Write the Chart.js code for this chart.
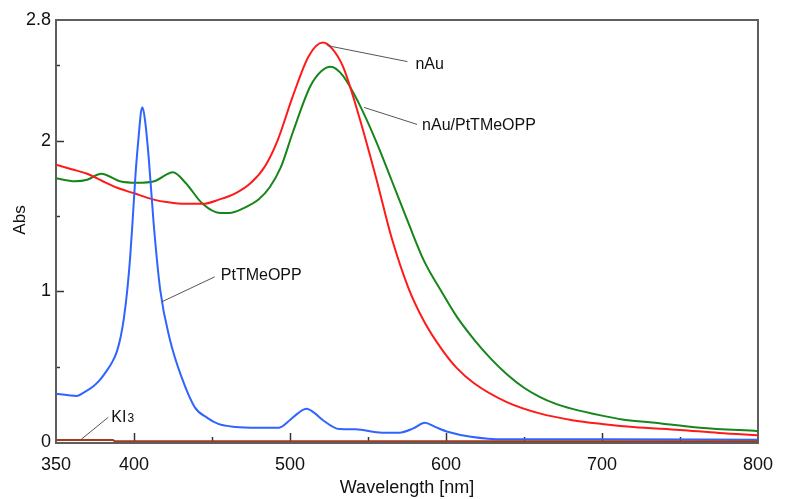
<!DOCTYPE html>
<html>
<head>
<meta charset="utf-8">
<title>Absorption spectra</title>
<script src="https://cdn.jsdelivr.net/npm/chart.js@4.4.1/dist/chart.umd.min.js"></script>
<style>
  html, body { margin: 0; padding: 0; background: #fff; }
  #wrap { width: 785px; height: 499px; }
</style>
</head>
<body>
<div id="wrap"><canvas id="chartSpectra"></canvas></div>
<script>
// ============ DATA ============
const nAuNm  = [350, 360, 370, 380, 391, 400, 412, 422, 433, 444, 455, 465, 475, 484, 492, 502, 512, 521, 527, 534, 544, 555, 565, 576, 586, 597, 607, 618, 639, 660, 681, 700, 720, 750, 775, 800];
const nAuAbs = [1.84, 1.81, 1.78, 1.73, 1.68, 1.65, 1.61, 1.59, 1.58, 1.58, 1.61, 1.65, 1.72, 1.83, 2.00, 2.30, 2.56, 2.65, 2.61, 2.49, 2.17, 1.76, 1.36, 1.02, 0.80, 0.62, 0.49, 0.39, 0.265, 0.19, 0.145, 0.12, 0.10, 0.08, 0.06, 0.045];

const mixNm  = [350, 362, 370, 379, 391, 402, 413, 425, 433, 444, 455, 461, 470, 480, 487, 494, 502, 513, 520, 526, 534, 544, 555, 565, 576, 586, 597, 607, 618, 629, 639, 650, 660, 670, 681, 700, 713, 732, 763, 800];
const mixAbs = [1.75, 1.73, 1.74, 1.78, 1.73, 1.72, 1.73, 1.79, 1.72, 1.58, 1.52, 1.52, 1.55, 1.61, 1.69, 1.82, 2.06, 2.36, 2.46, 2.49, 2.43, 2.25, 2.00, 1.74, 1.45, 1.20, 1.00, 0.83, 0.68, 0.55, 0.45, 0.36, 0.30, 0.255, 0.22, 0.175, 0.15, 0.13, 0.095, 0.072];

const ptNm  = [350, 358, 363, 368, 374, 378, 383, 386, 389, 391.5, 393.5, 395.7, 397.5, 399, 401, 403, 404.5, 405.5, 407, 409.4, 412.6, 416.8, 423, 430.5, 439, 447, 454, 465, 479, 493, 500, 505, 510.6, 516, 521, 531.6, 542, 559, 570, 579, 586.5, 593, 601, 616, 637, 700, 800];
const ptAbs = [0.32, 0.31, 0.305, 0.33, 0.37, 0.41, 0.48, 0.53, 0.60, 0.70, 0.82, 1.01, 1.22, 1.45, 1.78, 2.03, 2.19, 2.22, 2.14, 1.89, 1.45, 1.01, 0.68, 0.43, 0.23, 0.16, 0.12, 0.10, 0.095, 0.095, 0.146, 0.19, 0.22, 0.19, 0.146, 0.086, 0.084, 0.062, 0.062, 0.09, 0.128, 0.10, 0.068, 0.035, 0.018, 0.018, 0.015];

const ki3Nm  = [350, 386.5, 387.5, 800];
const ki3Abs = [0.013, 0.013, 0.006, 0.005];

const xTickValues = [350, 400, 450, 500, 550, 600, 650, 700, 750, 800];
const xTickLabels = [350, 400, 500, 600, 700, 800];
const yTickValues = [0, 0.5, 1, 1.5, 2, 2.5, 2.8];
const yTickLabels = [0, 1, 2, 2.8];

// ============ STYLE ============
const RED = '#ff1a1a';
const GREEN = '#16861a';
const BLUE = '#2f64ff';
const BROWN = '#a33a1f';
const FRAME = '#5e5e5e';
const INK = '#111';
const FONT = "'Liberation Sans', Arial, sans-serif";

function points(xs, ys) {
  return xs.map(function (x, i) { return { x: x, y: ys[i] }; });
}

function series(label, xs, ys, color, smooth) {
  return {
    label: label,
    data: points(xs, ys),
    borderColor: color,
    borderWidth: 2,
    pointRadius: 0,
    fill: false,
    tension: smooth ? 0.4 : 0,
    cubicInterpolationMode: smooth ? 'monotone' : 'default'
  };
}

// callouts: anchor in data units, text / leader end as px offsets from it
const callouts = [
  { text: 'nAu',          nm: 524,   abs: 2.63,  dx: 88, dy: 23,  lx: 80, ly: 16 },
  { text: 'nAu/PtTMeOPP', nm: 547.5, abs: 2.22,  dx: 58, dy: 23,  lx: 53, ly: 17 },
  { text: 'PtTMeOPP',     nm: 417.8, abs: 0.93,  dx: 59, dy: -22, lx: 53, ly: -25 },
  { text: 'KI', sub: '3', nm: 366.2, abs: 0.018, dx: 30, dy: -17, lx: 27, ly: -22 }
];

// ============ PLUGIN: frame + inward ticks under the curves, labels on top ============
const decor = {
  id: 'decor',
  beforeDatasetsDraw: function (chart) {
    const ctx = chart.ctx;
    const a = chart.chartArea;
    const xs = chart.scales.x;
    const ys = chart.scales.y;
    ctx.save();

    ctx.strokeStyle = '#333';
    ctx.lineWidth = 1.5;
    xTickValues.forEach(function (v) {
      if (v === 350 || v === 800) return;
      const px = Math.round(xs.getPixelForValue(v)) + 0.5;
      const len = (v % 100 === 0) ? 9 : 5;
      ctx.beginPath();
      ctx.moveTo(px, a.bottom);
      ctx.lineTo(px, a.bottom - len);
      ctx.stroke();
    });
    yTickValues.forEach(function (v) {
      if (v === 0 || v === 2.8) return;
      const py = Math.round(ys.getPixelForValue(v)) + 0.5;
      const len = (v % 1 === 0) ? 8 : 4;
      ctx.beginPath();
      ctx.moveTo(a.left, py);
      ctx.lineTo(a.left + len, py);
      ctx.stroke();
    });

    ctx.strokeStyle = FRAME;
    ctx.lineWidth = 2;
    ctx.strokeRect(a.left, a.top, a.right - a.left, a.bottom - a.top + 1);
    ctx.restore();
  },
  afterDatasetsDraw: function (chart) {
    const ctx = chart.ctx;
    const a = chart.chartArea;
    const xs = chart.scales.x;
    const ys = chart.scales.y;
    ctx.save();

    callouts.forEach(function (c) {
      const px = xs.getPixelForValue(c.nm);
      const py = ys.getPixelForValue(c.abs);
      ctx.strokeStyle = '#555';
      ctx.lineWidth = 1;
      ctx.beginPath();
      ctx.moveTo(px, py);
      ctx.lineTo(px + c.lx, py + c.ly);
      ctx.stroke();

      ctx.fillStyle = INK;
      ctx.textAlign = 'left';
      ctx.textBaseline = 'alphabetic';
      ctx.font = '16px ' + FONT;
      ctx.fillText(c.text, px + c.dx, py + c.dy);
      if (c.sub) {
        const w = ctx.measureText(c.text).width;
        ctx.font = '12px ' + FONT;
        ctx.fillText(c.sub, px + c.dx + w + 1, py + c.dy);
      }
    });

    // y axis title
    ctx.translate(20, 220);
    ctx.rotate(-Math.PI / 2);
    ctx.textAlign = 'center';
    ctx.textBaseline = 'middle';
    ctx.font = '17px ' + FONT;
    ctx.fillStyle = INK;
    ctx.fillText('Abs', 0, 0);
    ctx.restore();
  }
};

// ============ CHART ============
Chart.defaults.font.family = FONT;
Chart.defaults.color = INK;

new Chart(document.getElementById('chartSpectra'), {
  type: 'line',
  data: {
    datasets: [
      series('KI3', ki3Nm, ki3Abs, BROWN, false),
      series('PtTMeOPP', ptNm, ptAbs, BLUE, true),
      series('nAu', nAuNm, nAuAbs, RED, true),
      series('nAu/PtTMeOPP', mixNm, mixAbs, GREEN, true)
    ]
  },
  options: {
    responsive: true,
    maintainAspectRatio: false,
    animation: false,
    layout: { padding: { top: 20, right: 17, left: 0, bottom: 0 } },
    plugins: {
      legend: { display: false },
      tooltip: { enabled: false }
    },
    scales: {
      x: {
        type: 'linear',
        min: 350,
        max: 800,
        afterBuildTicks: function (s) {
          s.ticks = xTickValues.map(function (v) { return { value: v }; });
        },
        afterFit: function (s) { s.height = 57; },
        border: { display: false },
        grid: { display: false, drawTicks: false },
        ticks: {
          autoSkip: false,
          maxRotation: 0,
          padding: 12,
          font: { size: 18 },
          color: INK,
          callback: function (v) { return xTickLabels.indexOf(v) >= 0 ? String(v) : ''; }
        },
        title: {
          display: true,
          text: 'Wavelength [nm]',
          font: { size: 18 },
          color: INK,
          padding: { top: 0, bottom: 0 }
        }
      },
      y: {
        type: 'linear',
        min: 0,
        max: 2.8,
        afterBuildTicks: function (s) {
          s.ticks = yTickValues.map(function (v) { return { value: v }; });
        },
        afterFit: function (s) { s.width = 56; },
        border: { display: false },
        grid: { display: false, drawTicks: false },
        ticks: {
          autoSkip: false,
          padding: 5,
          font: { size: 18 },
          color: INK,
          callback: function (v) { return yTickLabels.indexOf(v) >= 0 ? String(v) : ''; }
        }
      }
    }
  },
  plugins: [decor]
});
</script>
</body>
</html>
